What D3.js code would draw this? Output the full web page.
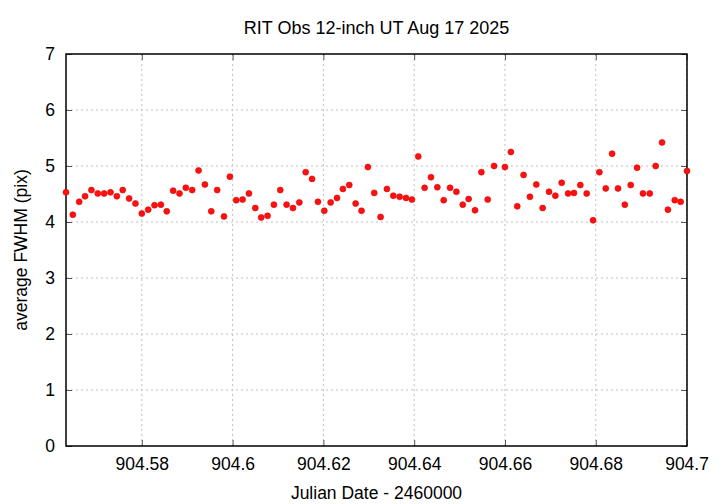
<!DOCTYPE html>
<html><head><meta charset="utf-8">
<script src="https://cdn.jsdelivr.net/npm/d3@7"></script>
<style>body{margin:0;background:#fff}svg{display:block}text{font-family:"Liberation Sans",Arial,sans-serif}</style>
</head><body><svg id="c" width="720" height="504"></svg>
<script>
const titleText = "RIT Obs 12-inch UT Aug 17 2025";
const xLabel = "Julian Date - 2460000";
const yLabel = "average FWHM (pix)";
const xTicks = [904.58, 904.6, 904.62, 904.64, 904.66, 904.68, 904.7];
const xTickLabels = ["904.58", "904.6", "904.62", "904.64", "904.66", "904.68", "904.7"];
const yTicks = [0, 1, 2, 3, 4, 5, 6, 7];
const jd = [904.5633,904.5648,904.5662,904.5675,904.5689,904.5703,904.5717,904.5731,904.5745,904.5758,
904.5772,904.5786,904.5800,904.5814,904.5828,904.5842,904.5855,904.5869,904.5883,904.5897,
904.5911,904.5925,904.5939,904.5953,904.5966,904.5981,904.5994,904.6008,904.6022,904.6036,
904.6050,904.6063,904.6077,904.6091,904.6105,904.6119,904.6133,904.6147,904.6161,904.6175,
904.6188,904.6202,904.6216,904.6230,904.6243,904.6257,904.6271,904.6284,904.6298,904.6312,
904.6326,904.6340,904.6354,904.6368,904.6382,904.6395,904.6409,904.6423,904.6437,904.6451,
904.6465,904.6479,904.6493,904.6507,904.6520,904.6534,904.6548,904.6562,904.6576,904.6600,
904.6613,904.6627,904.6641,904.6655,904.6669,904.6683,904.6697,904.6711,904.6725,904.6739,
904.6752,904.6766,904.6780,904.6794,904.6808,904.6822,904.6836,904.6849,904.6864,904.6877,
904.6891,904.6904,904.6919,904.6932,904.6946,904.6959,904.6974,904.6987,904.7001];
const fwhm = [4.53,4.13,4.36,4.46,4.57,4.51,4.51,4.53,4.46,4.57,
4.42,4.33,4.15,4.22,4.30,4.31,4.19,4.56,4.51,4.61,
4.57,4.92,4.67,4.19,4.57,4.10,4.81,4.39,4.40,4.51,
4.25,4.08,4.11,4.31,4.57,4.31,4.25,4.35,4.89,4.77,
4.36,4.20,4.35,4.43,4.59,4.66,4.33,4.20,4.98,4.52,
4.09,4.59,4.47,4.45,4.43,4.40,5.17,4.61,4.80,4.62,
4.39,4.61,4.54,4.31,4.41,4.21,4.89,4.40,5.00,4.98,
5.25,4.28,4.84,4.45,4.67,4.25,4.54,4.47,4.70,4.51,
4.52,4.66,4.51,4.03,4.89,4.60,5.22,4.60,4.31,4.66,
4.97,4.51,4.51,5.00,5.42,4.22,4.39,4.36,4.91];

const svg = d3.select("#c");
const L = 66, R = 687, T = 54, B = 446;
const FS = 17.5;
const x = d3.scaleLinear().domain(d3.extent(jd)).range([L, R]);
const y = d3.scaleLinear().domain([0, 7]).range([B, T]);

// grid
const g = svg.append("g");
g.selectAll("line.gx").data(xTicks).join("line")
  .attr("x1", d => x(d)).attr("x2", d => x(d)).attr("y1", T).attr("y2", B)
  .attr("stroke", "#c0c0c0").attr("stroke-width", 1).attr("stroke-dasharray", "2,3");
g.selectAll("line.gy").data(yTicks.slice(1, -1)).join("line")
  .attr("x1", L).attr("x2", R).attr("y1", d => y(d)).attr("y2", d => y(d))
  .attr("stroke", "#c0c0c0").attr("stroke-width", 1).attr("stroke-dasharray", "2,3");

// axes
const ax = d3.axisBottom(x).tickValues(xTicks).tickFormat((d, i) => xTickLabels[i]).tickSizeInner(-6).tickSizeOuter(0).tickPadding(12);
const ay = d3.axisLeft(y).tickValues(yTicks).tickFormat(d3.format("d")).tickSizeInner(-6).tickSizeOuter(0).tickPadding(11);
const ayR = d3.axisRight(y).tickValues(yTicks).tickFormat("").tickSizeInner(-6).tickSizeOuter(0);
const axT = d3.axisTop(x).tickValues(xTicks).tickFormat("").tickSizeInner(-6).tickSizeOuter(0);
function style(sel) {
  sel.select(".domain").remove();
  sel.selectAll(".tick line").attr("stroke", "#555");
  sel.selectAll(".tick text").attr("font-size", FS).attr("fill", "#000")
    .attr("font-family", "'Liberation Sans',Arial,sans-serif");
}
svg.append("g").attr("transform", `translate(0,${B})`).call(ax).call(style);
svg.append("g").attr("transform", `translate(${L},0)`).call(ay).call(style);
svg.append("g").attr("transform", `translate(${R},0)`).call(ayR).call(style);
svg.append("g").attr("transform", `translate(0,${T})`).call(axT).call(style);

svg.append("rect").attr("x", L).attr("y", T).attr("width", R - L).attr("height", B - T)
  .attr("fill", "none").attr("stroke", "#000").attr("stroke-width", 1.5);

// points
svg.append("g").selectAll("circle").data(jd).join("circle")
  .attr("cx", d => x(d)).attr("cy", (d, i) => y(fwhm[i])).attr("r", 3)
  .attr("fill", "#ff1010").attr("stroke", "#e00000").attr("stroke-width", 0.6);

// labels
svg.append("text").attr("x", (L + R) / 2).attr("y", 34).attr("text-anchor", "middle")
  .attr("font-size", 18).text(titleText);
svg.append("text").attr("x", (L + R) / 2).attr("y", 499).attr("text-anchor", "middle")
  .attr("font-size", FS).text(xLabel);
svg.append("text").attr("transform", `translate(27,${(T + B) / 2}) rotate(-90)`).attr("text-anchor", "middle")
  .attr("font-size", FS).text(yLabel);
</script></body></html>
